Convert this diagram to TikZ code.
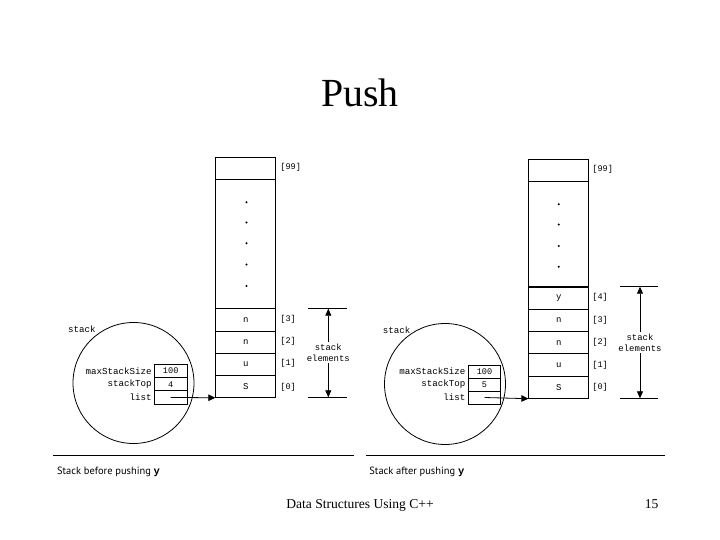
\documentclass[tikz,border=0pt]{standalone}
\usepackage{fontspec}
\setmainfont{Liberation Serif}
\newfontfamily\monofont{Liberation Mono}
\newfontfamily\capfont{PT Sans}
\usetikzlibrary{arrows.meta}
\begin{document}
\begin{tikzpicture}[x=1bp,y=-1bp,
  every path/.style={line width=0.8bp},
  cell/.style={draw, line width=0.8bp, minimum width=60bp, minimum height=22.2bp, inner sep=0pt,
    font=\monofont\fontsize{9}{10}\selectfont},
  idx/.style={anchor=west, inner sep=0pt, font=\monofont\fontsize{8.6}{10}\selectfont},
  fcell/.style={draw, line width=0.8bp, minimum width=32.7bp, minimum height=13.2bp, inner sep=0pt,
    font=\monofont\fontsize{8.6}{10}\selectfont},
  flab/.style={anchor=east, inner sep=2bp, font=\monofont\fontsize{9.2}{10}\selectfont},
  dotmark/.style={circle, fill=black, inner sep=0pt, minimum size=2.2bp},
  ring/.style={draw, circle, line width=0.8bp, minimum size=121bp, inner sep=0pt},
  tip/.style={-{Triangle[length=7bp,width=6.5bp]}},
  dtip/.style={{Triangle[length=7bp,width=6bp]}-{Triangle[length=7bp,width=6bp]}},
  elab/.style={fill=white, inner sep=1.5bp, align=center, font=\monofont\fontsize{9}{11}\selectfont},
  captext/.style={anchor=base west, inner sep=0pt, font=\capfont\fontsize{10.5}{12}\selectfont}
]
\useasboundingbox (0,0) rectangle (720,540);

% Title
\node[anchor=base, inner sep=0pt, font=\fontsize{40}{44}\selectfont] (title) at (360,106.7) {Push};

% ---------------- Left: before pushing ----------------
\node[ring] (Lcirc) at (133.5,383) {};
\node[anchor=center, inner sep=0pt, font=\monofont\fontsize{9.2}{10}\selectfont] (Lstack) at (82,329) {stack};

\node[cell, minimum height=22bp] (Ltop) at (245.7,168.3) {};
\node[cell, minimum height=129.4bp] (Lbig) at (245.7,244) {};
\node[cell] (L3) at (245.7,319.8) {n};
\node[cell] (L2) at (245.7,342.0) {n};
\node[cell] (L1) at (245.7,364.2) {u};
\node[cell] (L0) at (245.7,386.3) {S};

\foreach \yy [count=\i] in {202.3,222.5,243.3,264.5,286} {
  \node[dotmark] (Ld\i) at (246.5,\yy) {};
}

\node[idx] (Li99) at (280,167.3) {[99]};
\node[idx] (Li3) at (280,319.3) {[3]};
\node[idx] (Li2) at (280,341.3) {[2]};
\node[idx] (Li1) at (280,363.7) {[1]};
\node[idx] (Li0) at (280,387.3) {[0]};

\node[fcell] (Lmax) at (170.7,371.0) {100};
\node[fcell] (Ltopv) at (170.7,384.2) {4};
\node[fcell] (Llist) at (170.7,397.4) {};
\node[flab] (Llmax) at (Lmax.west) {maxStackSize};
\node[flab] (Lltop) at (Ltopv.west) {stackTop};
\node[flab] (Lllist) at (Llist.west) {list};

\draw[tip] (Llist.center) -- (L0.south west);

\coordinate (LbA) at (308.3,308.7);
\coordinate (LbB) at (346.7,308.7);
\coordinate (LbC) at (308.3,397.3);
\coordinate (LbD) at (346.7,397.3);
\coordinate (LaT) at (328.3,308.7);
\coordinate (LaB) at (328.3,397.3);
\draw (LbA) -- (LbB);
\draw (LbC) -- (LbD);
\draw[dtip] (LaT) -- (LaB);
\node[elab] (Lel) at (328.3,352.7) {stack\\elements};

\coordinate (LlineA) at (53.3,455);
\coordinate (LlineB) at (354,455);
\draw (LlineA) -- (LlineB);
\node[captext] (Lcap) at (56.7,474) {Stack before pushing {\monofont\bfseries y}};

% ---------------- Right: after pushing ----------------
\node[ring] (Rcirc) at (445,384) {};
\node[anchor=center, inner sep=0pt, font=\monofont\fontsize{9.2}{10}\selectfont] (Rstack) at (396.7,330) {stack};

\node[cell, minimum height=22bp] (Rtop) at (558.8,170.7) {};
\node[cell, minimum height=105.3bp] (Rbig) at (558.8,234.2) {};
\node[cell] (R4) at (558.8,298.2) {y};
\node[cell] (R3) at (558.8,320.4) {n};
\node[cell] (R2) at (558.8,342.6) {n};
\node[cell] (R1) at (558.8,364.8) {u};
\node[cell] (R0) at (558.8,387.2) {S};

\foreach \yy [count=\i] in {204.3,224.5,246,266.7} {
  \node[dotmark] (Rd\i) at (558.7,\yy) {};
}

\node[idx] (Ri99) at (592,169.3) {[99]};
\node[idx] (Ri4) at (592,297.3) {[4]};
\node[idx] (Ri3) at (592,320) {[3]};
\node[idx] (Ri2) at (592,342.7) {[2]};
\node[idx] (Ri1) at (592,365) {[1]};
\node[idx] (Ri0) at (592,387.7) {[0]};

\node[fcell] (Rmax) at (484.5,371.6) {100};
\node[fcell] (Rtopv) at (484.5,384.6) {5};
\node[fcell] (Rlist) at (484.5,397.5) {};
\node[flab] (Rlmax) at (Rmax.west) {maxStackSize};
\node[flab] (Rltop) at (Rtopv.west) {stackTop};
\node[flab] (Rllist) at (Rlist.west) {list};

\draw[tip] (Rlist.center) -- (R0.south west);

\coordinate (RbA) at (620,286.7);
\coordinate (RbB) at (658.3,286.7);
\coordinate (RbC) at (620,398.3);
\coordinate (RbD) at (658.3,398.3);
\coordinate (RaT) at (640,286.7);
\coordinate (RaB) at (640,398.3);
\draw (RbA) -- (RbB);
\draw (RbC) -- (RbD);
\draw[dtip] (RaT) -- (RaB);
\node[elab] (Rel) at (640,342.5) {stack\\elements};

\coordinate (RlineA) at (366,455);
\coordinate (RlineB) at (665,455);
\draw (RlineA) -- (RlineB);
\node[captext] (Rcap) at (369,474) {Stack after pushing {\monofont\bfseries y}};

% Footer
\node[anchor=base, inner sep=0pt, font=\fontsize{13.6}{15}\selectfont] (foot) at (360,508) {Data Structures Using C++};
\node[anchor=base, inner sep=0pt, font=\fontsize{13.6}{15}\selectfont] (pg) at (651.7,508) {15};
\end{tikzpicture}
\end{document}
